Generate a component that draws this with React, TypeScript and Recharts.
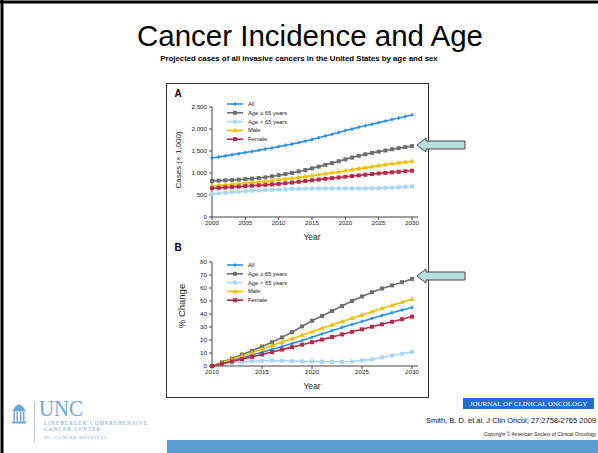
import React from 'react';
import { LineChart, Line, XAxis, YAxis } from 'recharts';

// panel A: projected cases (x 1,000), 2000-2030
const yearsA = [
  2000, 2001, 2002, 2003, 2004, 2005, 2006, 2007, 2008, 2009, 2010,
  2011, 2012, 2013, 2014, 2015, 2016, 2017, 2018, 2019, 2020,
  2021, 2022, 2023, 2024, 2025, 2026, 2027, 2028, 2029, 2030,
];
const allA = [1340, 1365, 1390, 1415, 1440, 1465, 1490, 1515, 1545, 1570, 1600, 1630, 1660, 1690, 1725, 1760, 1800, 1840, 1880, 1920, 1965, 2000, 2040, 2075, 2110, 2145, 2180, 2215, 2250, 2285, 2320];
const over65A = [820, 826, 833, 840, 849, 860, 872, 886, 902, 925, 950, 975, 1003, 1035, 1068, 1105, 1145, 1185, 1225, 1268, 1310, 1350, 1390, 1425, 1457, 1485, 1512, 1540, 1565, 1588, 1610];
const under65A = [520, 535, 550, 563, 575, 586, 596, 605, 612, 618, 624, 630, 636, 641, 645, 648, 650, 651, 651, 650, 650, 650, 650, 651, 653, 656, 661, 667, 675, 684, 694];
const maleA = [705, 718, 730, 743, 757, 770, 785, 800, 815, 830, 846, 864, 882, 900, 920, 940, 962, 984, 1006, 1030, 1053, 1076, 1099, 1122, 1145, 1168, 1190, 1210, 1230, 1250, 1268];
const femaleA = [655, 663, 672, 681, 690, 700, 710, 720, 730, 741, 752, 767, 783, 800, 817, 835, 851, 867, 883, 899, 915, 930, 945, 960, 975, 990, 1003, 1016, 1028, 1040, 1052];

// panel B: % change since 2010
const yearsB = [
  2010, 2011, 2012, 2013, 2014, 2015, 2016, 2017, 2018, 2019, 2020,
  2021, 2022, 2023, 2024, 2025, 2026, 2027, 2028, 2029, 2030,
];
const allB = [0, 2, 4.2, 6.3, 8.4, 10.6, 12.8, 15, 17.3, 19.7, 22.2, 24.7, 27.2, 29.7, 32, 34.3, 36.6, 38.8, 41, 43.1, 45];
const over65B = [0, 2.8, 5.8, 8.8, 11.7, 15, 18.3, 22, 26, 30.5, 34.8, 38.5, 42.3, 46.2, 50, 53.5, 56.8, 59.6, 62, 64.5, 67];
const under65B = [0, 1.5, 2.5, 3.2, 3.7, 3.9, 4.2, 4, 3.8, 3.7, 3.5, 3.4, 3.3, 3.3, 3.5, 4.3, 5.1, 6.6, 8.1, 9.4, 10.9];
const maleB = [0, 2.5, 5.1, 7.7, 10.3, 13, 15.7, 18.4, 21, 23.7, 26.4, 29, 31.6, 34.2, 36.8, 39.3, 41.8, 44.3, 46.7, 49, 51.3];
const femaleB = [0, 1.7, 3.5, 5.3, 7.1, 8.9, 10.7, 12.6, 14.5, 16.4, 18.3, 20.3, 22.3, 24.3, 26.3, 28.2, 30.2, 32.1, 34, 36, 38];

const xTicksA = [2000, 2005, 2010, 2015, 2020, 2025, 2030];
const yTicksA = [0, 500, 1000, 1500, 2000, 2500];
const xTicksB = [2010, 2015, 2020, 2025, 2030];
const yTicksB = [0, 10, 20, 30, 40, 50, 60, 70, 80];

const seriesKeys = ['all', 'over65', 'under65', 'male', 'female'];
const seriesNames = ['All', 'Age \u2265 65 years', 'Age < 65 years', 'Male', 'Female'];
const seriesColors = ['#2a8fe8', '#6d6e71', '#a9d5f6', '#efc000', '#b8294b'];
const seriesShapes = ['diamond', 'square', 'square', 'triangle', 'square'];

const dataA = yearsA.map((year, i) => ({
  year, all: allA[i], over65: over65A[i], under65: under65A[i], male: maleA[i], female: femaleA[i],
}));
const dataB = yearsB.map((year, i) => ({
  year, all: allB[i], over65: over65B[i], under65: under65B[i], male: maleB[i], female: femaleB[i],
}));

const FONT = '"Liberation Sans", Arial, sans-serif';
const SERIF = '"Liberation Serif", "Times New Roman", serif';

function Marker({ cx, cy, shape, color, s }: { cx: number; cy: number; shape: string; color: string; s: number }) {
  if (cx == null || cy == null) return null;
  if (shape === 'square') {
    return <rect x={cx - s / 2} y={cy - s / 2} width={s} height={s} fill={color} />;
  }
  if (shape === 'triangle') {
    return (
      <polygon
        points={`${cx},${cy - s * 0.7} ${cx - s * 0.65},${cy + s * 0.45} ${cx + s * 0.65},${cy + s * 0.45}`}
        fill={color}
      />
    );
  }
  return (
    <polygon
      points={`${cx},${cy - s * 0.55} ${cx + s * 0.4},${cy} ${cx},${cy + s * 0.55} ${cx - s * 0.4},${cy}`}
      fill={color}
    />
  );
}

const fmtThousands = (v: number) => v.toLocaleString('en-US');

function Panel({
  data, top, height, marginTop, xDomain, xTicks, yDomain, yTicks, fmt,
}: {
  data: any[]; top: number; height: number; marginTop: number;
  xDomain: number[]; xTicks: number[]; yDomain: number[]; yTicks: number[];
  fmt?: (v: number) => string;
}) {
  const tick = { fontSize: 6.2, fill: '#222', fontFamily: FONT };
  return (
    <div style={{ position: 'absolute', left: 166, top }}>
      <LineChart width={263} height={height} data={data} margin={{ top: marginTop, right: 11, bottom: 0, left: 16 }}>
        <XAxis
          dataKey="year" type="number" domain={xDomain} ticks={xTicks} interval={0}
          padding={{ left: 0, right: 6 }} height={26} tick={tick} tickSize={3} tickMargin={1}
          stroke="#444"
        />
        <YAxis
          type="number" domain={yDomain} ticks={yTicks} interval={0} width={30}
          tick={tick} tickSize={3} tickMargin={2} stroke="#444" tickFormatter={fmt}
        />
        {seriesKeys.map((k, i) => (
          <Line
            key={k}
            type="linear"
            dataKey={k}
            stroke={seriesColors[i]}
            strokeWidth={1.6}
            isAnimationActive={false}
            dot={(p: any) => (
              <Marker key={`${k}-${p.index}`} cx={p.cx} cy={p.cy} shape={seriesShapes[i]} color={seriesColors[i]} s={4} />
            )}
          />
        ))}
      </LineChart>
    </div>
  );
}

function LegendBlock({ x, y }: { x: number; y: number }) {
  return (
    <g>
      {seriesNames.map((name, i) => {
        const yy = y + i * 8.8;
        return (
          <g key={name}>
            <line x1={x} x2={x + 16} y1={yy} y2={yy} stroke={seriesColors[i]} strokeWidth={1.6} />
            <Marker cx={x + 8} cy={yy} shape={seriesShapes[i]} color={seriesColors[i]} s={4} />
            <text x={x + 21} y={yy} dominantBaseline="central" fontSize={5.8} fill="#222" fontFamily={FONT}>
              {name}
            </text>
          </g>
        );
      })}
    </g>
  );
}

function Arrow({ tipX, tipY }: { tipX: number; tipY: number }) {
  const headLen = 9;
  const headHalf = 7;
  const bodyHalf = 4;
  const endX = tipX + 48;
  const pts = [
    [tipX, tipY],
    [tipX + headLen, tipY - headHalf],
    [tipX + headLen, tipY - bodyHalf],
    [endX, tipY - bodyHalf],
    [endX, tipY + bodyHalf],
    [tipX + headLen, tipY + bodyHalf],
    [tipX + headLen, tipY + headHalf],
  ].map((p) => p.join(',')).join(' ');
  return <polygon points={pts} fill="#b7dfe0" stroke="#333" strokeWidth={0.9} />;
}

function Slide() {
  return (
    <svg width={598} height={453} style={{ position: 'absolute', left: 0, top: 0 }}>
      <rect x={0} y={0} width={598} height={453} fill="#fff" />
      {/* slide frame */}
      <line x1={2} y1={0} x2={2} y2={453} stroke="#000" strokeWidth={3} />
      <line x1={0} y1={2} x2={598} y2={2} stroke="#000" strokeWidth={3} />

      <text x={310} y={35} textAnchor="middle" dominantBaseline="central" fontSize={29.5} fontFamily={FONT} fill="#000">
        Cancer Incidence and Age
      </text>
      <text x={299} y={58} textAnchor="middle" dominantBaseline="central" fontSize={7.8} fontWeight="bold" fontFamily={FONT} fill="#000">
        Projected cases of all invasive cancers in the United States by age and sex
      </text>

      {/* figure frame */}
      <rect x={166.5} y={83.5} width={262} height={314} fill="#fff" stroke="#333" strokeWidth={1} />

      <text x={178} y={93} textAnchor="middle" dominantBaseline="central" fontSize={10} fontWeight="bold" fontFamily={FONT}>A</text>
      <text x={178} y={247} textAnchor="middle" dominantBaseline="central" fontSize={10} fontWeight="bold" fontFamily={FONT}>B</text>

      <text transform="translate(178,160) rotate(-90)" textAnchor="middle" dominantBaseline="central" fontSize={8} fontFamily={FONT} fill="#222">
        Cases (× 1,000)
      </text>
      <text transform="translate(181,306) rotate(-90)" textAnchor="middle" dominantBaseline="central" fontSize={9.5} fontFamily={FONT} fill="#222">
        % Change
      </text>
      <text x={312} y={237} textAnchor="middle" dominantBaseline="central" fontSize={8.5} fontFamily={FONT} fill="#222">Year</text>
      <text x={312} y={386} textAnchor="middle" dominantBaseline="central" fontSize={8.5} fontFamily={FONT} fill="#222">Year</text>

      <LegendBlock x={227} y={104} />
      <LegendBlock x={227} y={265} />

      <Arrow tipX={417} tipY={145} />
      <Arrow tipX={417} tipY={276} />

      {/* journal + citation */}
      <rect x={463} y={398} width={131} height={11} fill="#1f6fd1" />
      <text x={528.5} y={403.8} textAnchor="middle" dominantBaseline="central" fontSize={7} fontFamily={SERIF} fill="#fff">
        JOURNAL OF CLINICAL ONCOLOGY
      </text>
      <text x={596} y={420} textAnchor="end" dominantBaseline="central" fontSize={7.5} fontFamily={FONT} fill="#111">
        Smith, B. D. et al. J Clin Oncol; 27:2758-2765 2009
      </text>
      <text x={596} y={434} textAnchor="end" dominantBaseline="central" fontSize={5} fontFamily={FONT} fill="#222">
        Copyright © American Society of Clinical Oncology
      </text>
      <rect x={167} y={440} width={431} height={13} fill="#5b9bd0" />

      {/* UNC logo */}
      <g fill="#6fa6d8" stroke="none">
        <path d="M13 410 Q19 399 25 410 Z" />
        <rect x={12.5} y={410} width={13} height={1.5} />
        <rect x={13.5} y={412} width={1.5} height={9.5} />
        <rect x={16.5} y={412} width={1.5} height={9.5} />
        <rect x={20} y={412} width={1.5} height={9.5} />
        <rect x={23} y={412} width={1.5} height={9.5} />
        <rect x={12} y={421.5} width={14} height={2} />
      </g>
      <line x1={34.5} y1={402} x2={34.5} y2={442} stroke="#9cc2e5" strokeWidth={0.8} />
      <text x={39} y={416} fontSize={24} fontFamily={SERIF} fill="#6fa6d8" textLength={44} lengthAdjust="spacingAndGlyphs">UNC</text>
      <text x={44} y={424.5} fontSize={5.3} letterSpacing={1.05} fontFamily={SERIF} fill="#6fa6d8">LINEBERGER COMPREHENSIVE</text>
      <text x={44} y={430.5} fontSize={5.3} letterSpacing={1.05} fontFamily={SERIF} fill="#6fa6d8">CANCER CENTER</text>
      <text x={44} y={438.5} fontSize={4.6} letterSpacing={0.8} fontFamily={SERIF} fill="#6fa6d8">NC CANCER HOSPITAL</text>
    </svg>
  );
}

export default function App() {
  return (
    <div style={{ position: 'absolute', left: 0, top: 0, width: 598, height: 453, overflow: 'hidden', background: '#fff' }}>
      <Slide />
      <Panel
        data={dataA} top={83} height={160} marginTop={24}
        xDomain={[2000, 2030]} xTicks={xTicksA} yDomain={[0, 2500]} yTicks={yTicksA} fmt={fmtThousands}
      />
      <Panel
        data={dataB} top={240} height={152} marginTop={22}
        xDomain={[2010, 2030]} xTicks={xTicksB} yDomain={[0, 80]} yTicks={yTicksB}
      />
    </div>
  );
}
